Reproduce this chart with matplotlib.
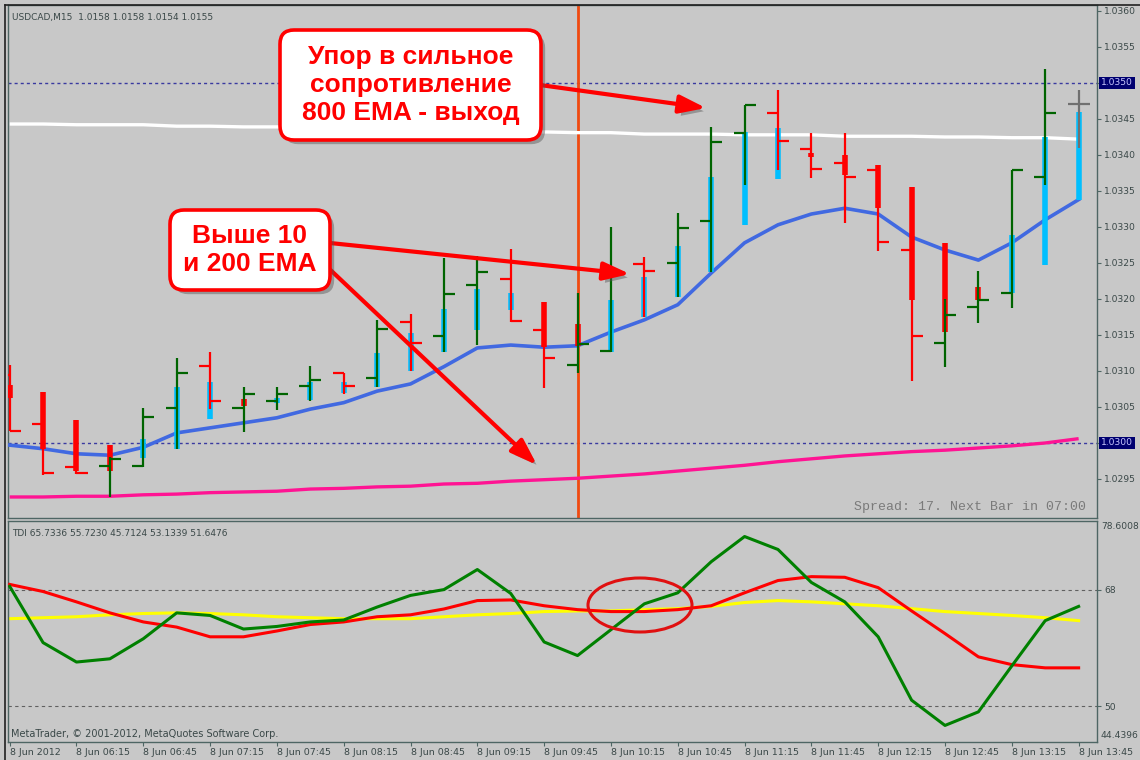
import matplotlib
matplotlib.use('Agg')
import matplotlib.pyplot as plt
import matplotlib.patheffects as pe
from matplotlib.patches import FancyBboxPatch, FancyArrowPatch, Ellipse
from matplotlib.transforms import IdentityTransform, blended_transform_factory
from matplotlib.lines import Line2D
import numpy as np

# ---------------- data ----------------
time_labels = ["8 Jun 2012", "8 Jun 06:15", "8 Jun 06:45", "8 Jun 07:15", "8 Jun 07:45",
               "8 Jun 08:15", "8 Jun 08:45", "8 Jun 09:15", "8 Jun 09:45", "8 Jun 10:15",
               "8 Jun 10:45", "8 Jun 11:15", "8 Jun 11:45", "8 Jun 12:15", "8 Jun 12:45",
               "8 Jun 13:15", "8 Jun 13:45"]

opens = [1.03094, 1.03026, 1.02967, 1.02968, 1.02968, 1.03049, 1.03107, 1.03049, 1.03058, 1.03079,
         1.03097, 1.03090, 1.03168, 1.03149, 1.03219, 1.03228, 1.03157, 1.03108, 1.03128, 1.03249,
         1.03250, 1.03308, 1.03431, 1.03458, 1.03408, 1.03389, 1.03379, 1.03268, 1.03139, 1.03189,
         1.03208, 1.03369, 1.03471]
highs = [1.03108, 1.03071, 1.03032, 1.02980, 1.03049, 1.03118, 1.03126, 1.03078, 1.03078, 1.03107,
         1.03097, 1.03171, 1.03179, 1.03257, 1.03260, 1.03269, 1.03196, 1.03208, 1.03300, 1.03258,
         1.03319, 1.03439, 1.03469, 1.03490, 1.03431, 1.03431, 1.03386, 1.03356, 1.03200, 1.03239,
         1.03379, 1.03519, 1.03490]
lows = [1.03017, 1.02956, 1.02957, 1.02925, 1.02967, 1.02992, 1.03047, 1.03015, 1.03046, 1.03058,
        1.03068, 1.03078, 1.03100, 1.03126, 1.03136, 1.03168, 1.03076, 1.03097, 1.03126, 1.03175,
        1.03203, 1.03238, 1.03358, 1.03379, 1.03368, 1.03306, 1.03267, 1.03086, 1.03106, 1.03167,
        1.03188, 1.03358, 1.03410]
closes = [1.03017, 1.02958, 1.02958, 1.02978, 1.03036, 1.03097, 1.03058, 1.03068, 1.03068, 1.03088,
          1.03079, 1.03158, 1.03139, 1.03207, 1.03238, 1.03169, 1.03118, 1.03138, 1.03236, 1.03239,
          1.03299, 1.03418, 1.03469, 1.03419, 1.03381, 1.03369, 1.03279, 1.03149, 1.03178, 1.03199,
          1.03379, 1.03458, 1.03471]

ha_open = [1.03081, 1.03071, 1.03032, 1.02997, 1.02979, 1.02992, 1.03033, 1.03061, 1.03056, 1.03060,
           1.03069, 1.03078, 1.03100, 1.03126, 1.03157, 1.03185, 1.03196, 1.03165, 1.03126, 1.03175,
           1.03203, 1.03238, 1.03303, 1.03367, 1.03403, 1.03400, 1.03386, 1.03356, 1.03278, 1.03217,
           1.03208, 1.03247, 1.03338]
ha_close = [1.03063, 1.02992, 1.02961, 1.02961, 1.03006, 1.03078, 1.03085, 1.03051, 1.03063, 1.03085,
            1.03085, 1.03125, 1.03153, 1.03186, 1.03214, 1.03208, 1.03133, 1.03135, 1.03199, 1.03231,
            1.03274, 1.03369, 1.03432, 1.03438, 1.03397, 1.03372, 1.03326, 1.03199, 1.03154, 1.03199,
            1.03289, 1.03425, 1.03460]

ema10 = [1.02997, 1.02992, 1.02985, 1.02983, 1.02994, 1.03014, 1.03021, 1.03028, 1.03035, 1.03047,
         1.03056, 1.03072, 1.03082, 1.03106, 1.03132, 1.03136, 1.03133, 1.03135, 1.03154, 1.03171,
         1.03192, 1.03236, 1.03278, 1.03303, 1.03318, 1.03326, 1.03318, 1.03286, 1.03268, 1.03254,
         1.03278, 1.03310, 1.03338]
ema200 = [1.02925, 1.02925, 1.02926, 1.02926, 1.02928, 1.02929, 1.02931, 1.02932, 1.02933, 1.02936,
          1.02937, 1.02939, 1.02940, 1.02943, 1.02944, 1.02947, 1.02949, 1.02951, 1.02954, 1.02957,
          1.02961, 1.02965, 1.02969, 1.02974, 1.02978, 1.02982, 1.02985, 1.02988, 1.02990, 1.02993,
          1.02996, 1.03000, 1.03006]
ema800 = [1.03443, 1.03443, 1.03442, 1.03442, 1.03442, 1.03440, 1.03440, 1.03439, 1.03439, 1.03438,
          1.03438, 1.03436, 1.03436, 1.03435, 1.03433, 1.03432, 1.03432, 1.03431, 1.03431, 1.03429,
          1.03429, 1.03429, 1.03428, 1.03428, 1.03428, 1.03426, 1.03426, 1.03426, 1.03425, 1.03425,
          1.03424, 1.03424, 1.03422]

tdi_green = [68.5, 59.8, 56.8, 57.3, 60.4, 64.4, 64.0, 61.9, 62.3, 63.0, 63.3, 65.3, 67.1, 68.0, 71.1,
             67.4, 59.9, 57.8, 61.8, 65.8, 67.5, 72.3, 76.2, 74.2, 69.1, 66.1, 60.7, 50.9, 47.0, 49.1,
             56.2, 63.2, 65.4]
tdi_red = [68.8, 67.7, 66.1, 64.4, 63.0, 62.2, 60.7, 60.7, 61.6, 62.6, 63.0, 63.8, 64.1, 65.0, 66.3,
           66.4, 65.5, 64.9, 64.6, 64.6, 64.9, 65.5, 67.5, 69.4, 70.0, 69.9, 68.3, 64.7, 61.2, 57.6,
           56.4, 55.9, 55.9]
tdi_yellow = [63.5, 63.65, 63.8, 64.1, 64.3, 64.4, 64.3, 64.1, 63.8, 63.65, 63.5, 63.5, 63.5, 63.8,
              64.1, 64.3, 64.6, 64.7, 64.7, 64.9, 65.05, 65.4, 66.0, 66.3, 66.1, 65.8, 65.5, 65.05,
              64.6, 64.3, 64.0, 63.65, 63.2]

price_ticks = [1.0295, 1.0300, 1.0305, 1.0310, 1.0315, 1.0320, 1.0325, 1.0330, 1.0335, 1.0340,
               1.0345, 1.0350, 1.0355, 1.0360]
hlines_price = [1.0350, 1.0300]
tdi_levels = [68, 50]
tdi_range = [44.4396, 78.6008]

# ---------------- layout ----------------
W, H = 1140, 760
fig = plt.figure(figsize=(W / 100, H / 100), dpi=100)
BG = '#c8c8c8'
FRAME = '#4e6664'
TXT = '#3a4848'
fig.patch.set_facecolor(BG)
LAB = 6.6


def ax_rect(x0, y0, x1, y1):
    return [x0 / W, 1 - y1 / H, (x1 - x0) / W, (y1 - y0) / H]


ax = fig.add_axes(ax_rect(8, 5, 1097, 518))
ax2 = fig.add_axes(ax_rect(8, 521, 1097, 742))
for a in (ax, ax2):
    a.set_facecolor(BG)
    for s in a.spines.values():
        s.set_color(FRAME)
        s.set_linewidth(1.0)

n = len(opens)
x = np.arange(n)
xlim = (-0.05, 32.55)

# ---------------- main panel ----------------
ax.set_xlim(*xlim)
ax.set_ylim(1.028958, 1.036083)

ax.plot(x, ema200, color='#ff1493', lw=2.4, zorder=2, solid_capstyle='butt')
ax.plot(x, ema800, color='white', lw=2.4, zorder=2, solid_capstyle='butt')
ax.plot(x, ema10, color='#4169e1', lw=2.6, zorder=3)

for lv in hlines_price:
    ax.axhline(lv, color='#3a3aa0', lw=1.0, ls=(0, (2.2, 2.2)), zorder=1)

ax.axvline(17, color='#f04a10', lw=2.0, zorder=1.5)

ha_cols = ['#00bfff' if c > o else '#ff0000' for o, c in zip(ha_open, ha_close)]
ax.vlines(x, ha_open, ha_close, colors=ha_cols, lw=4.0, zorder=4)

bar_cols = []
for o, c in zip(opens, closes):
    if c > o:
        bar_cols.append('#006400')
    elif c < o:
        bar_cols.append('#ff0000')
    else:
        bar_cols.append('#707070')
tk = 0.33
ax.vlines(x, lows, highs, colors=bar_cols, lw=1.6, zorder=5)
ax.hlines(opens, x - tk, x, colors=bar_cols, lw=1.6, zorder=5)
ax.hlines(closes, x, x + tk, colors=bar_cols, lw=1.6, zorder=5)

ax.set_xticks([])
ax.yaxis.tick_right()
ax.set_yticks(price_ticks)
ax.set_yticklabels(['' if any(abs(v - h) < 1e-9 for h in hlines_price) else f'{v:.4f}'
                    for v in price_ticks])
ax.tick_params(axis='y', direction='out', length=3, width=0.8, color=FRAME,
               labelsize=LAB, labelcolor=TXT, pad=2)

bt = blended_transform_factory(ax.transAxes, ax.transData)
for lv in hlines_price:
    ax.text(1.0038, lv, f'{lv:.4f}', transform=bt, fontsize=LAB, color='#c8c8ff',
            va='center', ha='left', zorder=10, clip_on=False,
            bbox=dict(boxstyle='square,pad=0.2', fc='#000070', ec='none'))

ax.text(0.004, 0.985, 'USDCAD,M15  1.0158 1.0158 1.0154 1.0155', transform=ax.transAxes,
        fontsize=6.5, color=TXT, va='top', ha='left')
ax.text(0.99, 0.01, 'Spread: 17. Next Bar in 07:00', transform=ax.transAxes,
        family='Liberation Mono', fontsize=9.5, color='#7a7a7a', va='bottom', ha='right')

# ---------------- TDI panel ----------------
ax2.set_xlim(*xlim)
ax2.set_ylim(*tdi_range)
ax2.plot(x, tdi_yellow, color='#ffff00', lw=2.2, zorder=2)
ax2.plot(x, tdi_red, color='#ff0000', lw=2.2, zorder=3)
ax2.plot(x, tdi_green, color='#008000', lw=2.2, zorder=4)
for lv in tdi_levels:
    ax2.axhline(lv, color='#606060', lw=0.8, ls=(0, (3, 3)), zorder=1)

ax2.yaxis.tick_right()
ax2.set_yticks(tdi_levels)
ax2.set_yticklabels([str(v) for v in tdi_levels])
ax2.tick_params(axis='y', direction='out', length=3, width=0.8, color=FRAME,
                labelsize=LAB, labelcolor=TXT, pad=2)
ax2.text(1.0035, 0.995, f'{tdi_range[1]:.4f}', transform=ax2.transAxes, fontsize=LAB,
         color=TXT, va='top', ha='left', clip_on=False)
ax2.text(1.0035, 0.01, f'{tdi_range[0]:.4f}', transform=ax2.transAxes, fontsize=LAB,
         color=TXT, va='bottom', ha='left', clip_on=False)

ax2.set_xticks(x[::2])
ax2.set_xticklabels(time_labels)
for lbl in ax2.get_xticklabels():
    lbl.set_ha('left')
ax2.tick_params(axis='x', direction='out', length=3, width=0.8, color=FRAME,
                labelsize=6.8, labelcolor=TXT, pad=1)

ax2.text(0.004, 0.965, 'TDI 65.7336 55.7230 45.7124 53.1339 51.6476', transform=ax2.transAxes,
         fontsize=6.5, color=TXT, va='top', ha='left')
ax2.text(0.003, 0.015, 'MetaTrader, © 2001-2012, MetaQuotes Software Corp.', transform=ax2.transAxes,
         fontsize=7, color=TXT, va='bottom', ha='left')

# ---------------- outer frame ----------------
ID = IdentityTransform()
fig.add_artist(Line2D([4.5, 4.5], [0, H - 4.5], transform=ID, color='#202020', lw=1.2))
fig.add_artist(Line2D([4.5, W], [H - 4.5, H - 4.5], transform=ID, color='#202020', lw=1.2))

# ---------------- annotations (pixel coordinates) ----------------
shadow = [pe.SimplePatchShadow(offset=(3, -3), shadow_rgbFace='#555555', alpha=0.45), pe.Normal()]


def box(x0, y0, x1, y1, text, size):
    p = FancyBboxPatch((x0, H - y1), x1 - x0, y1 - y0, boxstyle='round,pad=0,rounding_size=14',
                       transform=ID, fc='white', ec='#ff0000', lw=2.6, zorder=20,
                       path_effects=shadow)
    fig.add_artist(p)
    fig.text((x0 + x1) / 2 / W, 1 - (y0 + y1) / 2 / H, text, ha='center', va='center',
             family='Liberation Sans', weight='bold', fontsize=size, color='#ff0000',
             linespacing=1.22, zorder=21)


def arrow(xa, ya, xb, yb):
    a = FancyArrowPatch((xa, H - ya), (xb, H - yb), transform=ID,
                        arrowstyle='-|>,head_length=16,head_width=5.5', mutation_scale=1,
                        color='#ff0000', lw=3.0, zorder=19, shrinkA=0, shrinkB=0,
                        path_effects=shadow)
    fig.add_artist(a)


arrow(540, 85, 706, 108)
arrow(330, 243, 630, 274)
arrow(322, 262, 537, 465)
box(280, 30, 541, 140, 'Упор в сильное\nсопротивление\n800 EMA - выход', 19)
box(170, 210, 330, 290, 'Выше 10\nи 200 EMA', 19)

ell = Ellipse((640, H - 605), 104, 54, transform=ID, fill=False, ec='#e01010', lw=2.2, zorder=20)
fig.add_artist(ell)

fig.savefig('out.png', dpi=100, facecolor=BG)
